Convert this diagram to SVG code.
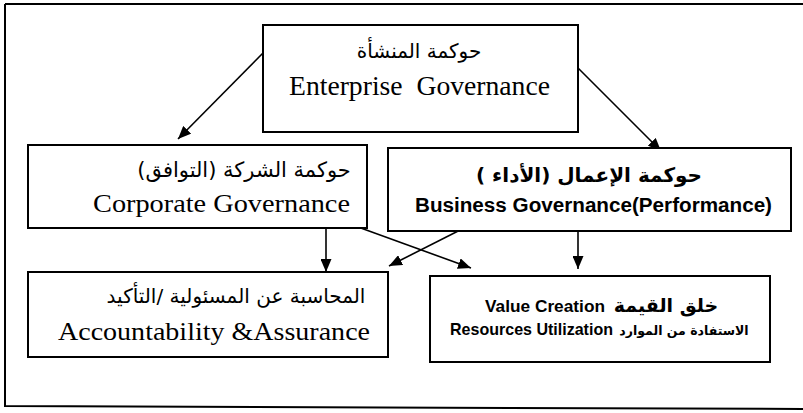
<svg xmlns="http://www.w3.org/2000/svg" width="803" height="413" viewBox="0 0 803 413">
  <style>
    .box { fill: #fff; stroke: #000; stroke-width: 2; }
    .frame { fill: none; stroke: #000; stroke-width: 2; }
    .conn { stroke: #000; stroke-width: 1.6; fill: none; marker-end: url(#head); }
    .serif { font-family: "Liberation Serif", "DejaVu Serif", serif; fill: #000; }
    .sansb { font-family: "Liberation Sans", Arial, sans-serif; font-weight: bold; fill: #000; }
    .ar { font-family: "DejaVu Sans", sans-serif; fill: #000; }
    .arb { font-family: "DejaVu Sans", sans-serif; font-weight: bold; fill: #000; }
  </style>
  <defs>
    <marker id="head" viewBox="0 0 13 11" refX="13" refY="5.5" markerWidth="13" markerHeight="11" markerUnits="userSpaceOnUse" orient="auto">
      <path d="M0,0 L13,5.5 L0,11 z" fill="#000"/>
    </marker>
  </defs>

  <rect width="803" height="413" fill="#fff"/>
  <!-- outer frame -->
  <path class="frame" d="M5,4 L803,4 M5,4 L5,406 L803,409"/>

  <!-- connectors -->
  <g id="connectors">
    <line class="conn" x1="263" y1="53" x2="178" y2="139"/>
    <line class="conn" x1="578" y1="68" x2="661" y2="151"/>
    <line class="conn" x1="326" y1="229" x2="326" y2="272"/>
    <line class="conn" x1="347" y1="223" x2="471" y2="268"/>
    <line class="conn" x1="472" y1="224" x2="389" y2="266"/>
    <line class="conn" x1="578" y1="232" x2="578" y2="269"/>
  </g>

  <g id="enterprise">
    <rect class="box" x="263" y="25" width="315" height="107"/>
    <text class="ar" x="419" y="58" font-size="20" direction="rtl" text-anchor="middle">حوكمة المنشأة</text>
    <text class="serif" x="289" y="95" font-size="27" textLength="261" lengthAdjust="spacingAndGlyphs" xml:space="preserve">Enterprise  Governance</text>
  </g>

  <g id="corporate">
    <rect class="box" x="28" y="145" width="339" height="83"/>
    <text class="ar" x="244" y="177" font-size="21" direction="rtl" text-anchor="middle">حوكمة الشركة (التوافق)</text>
    <text class="serif" x="93" y="212" font-size="25" textLength="257" lengthAdjust="spacingAndGlyphs">Corporate Governance</text>
  </g>

  <g id="business">
    <rect class="box" x="388" y="148" width="403" height="83"/>
    <text class="arb" x="589" y="182" font-size="20" direction="rtl" text-anchor="middle">حوكمة الإعمال (الأداء )</text>
    <text class="sansb" x="415" y="212" font-size="20" textLength="357" lengthAdjust="spacingAndGlyphs">Business Governance(Performance)</text>
  </g>

  <g id="accountability">
    <rect class="box" x="28" y="272" width="360" height="85"/>
    <text class="ar" x="236" y="303" font-size="20" direction="rtl" text-anchor="middle">المحاسبة عن المسئولية /التأكيد</text>
    <text class="serif" x="58" y="340" font-size="26" textLength="312" lengthAdjust="spacingAndGlyphs">Accountability &amp;Assurance</text>
  </g>

  <g id="value">
    <rect class="box" x="430" y="276" width="340" height="86"/>
    <text class="sansb" x="485" y="312" font-size="17" textLength="120" lengthAdjust="spacingAndGlyphs">Value Creation</text>
    <text class="arb" x="666" y="312" font-size="19" direction="rtl" text-anchor="middle">خلق القيمة</text>
    <text class="sansb" x="450" y="335" font-size="17" textLength="163" lengthAdjust="spacingAndGlyphs">Resources Utilization</text>
    <text class="arb" x="684" y="335" font-size="12.5" direction="rtl" text-anchor="middle">الاستفادة من الموارد</text>
  </g>
</svg>
